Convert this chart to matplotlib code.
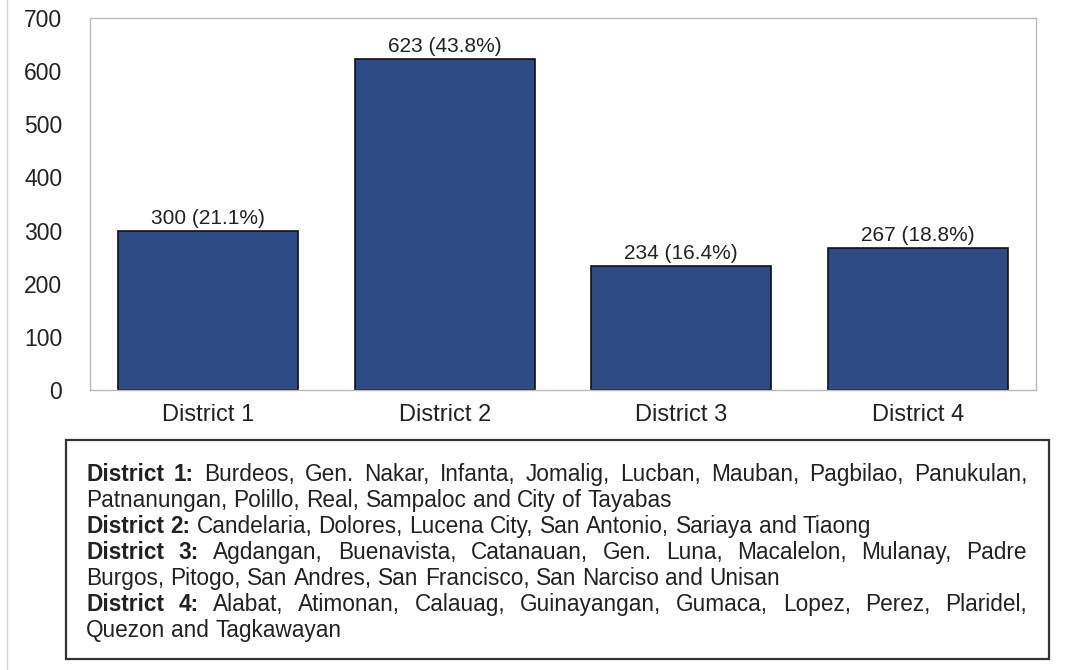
import matplotlib
matplotlib.use("Agg")
import matplotlib.pyplot as plt
from matplotlib.patches import Rectangle
from matplotlib.lines import Line2D

districts = ["District 1", "District 2", "District 3", "District 4"]
respondents = [300, 623, 234, 267]
shares = [21.1, 43.8, 16.4, 18.8]

# description box, one entry per printed line: (bold lead, rest, justified?)
note_lines = [
    ("District 1:", "Burdeos, Gen. Nakar, Infanta, Jomalig, Lucban, Mauban, Pagbilao, Panukulan,", True),
    ("", "Patnanungan, Polillo, Real, Sampaloc and City of Tayabas", False),
    ("District 2:", "Candelaria, Dolores, Lucena City, San Antonio, Sariaya and Tiaong", False),
    ("District 3:", "Agdangan, Buenavista, Catanauan, Gen. Luna, Macalelon, Mulanay, Padre", True),
    ("", "Burgos, Pitogo, San Andres, San Francisco, San Narciso and Unisan", False),
    ("District 4:", "Alabat, Atimonan, Calauag, Guinayangan, Gumaca, Lopez, Perez, Plaridel,", True),
    ("", "Quezon and Tagkawayan", False),
]

W, H = 1075, 670
plt.rcParams['font.family'] = ['Liberation Sans', 'DejaVu Sans']
ink = '#222222'
FS = 16.3

fig = plt.figure(figsize=(W / 100, H / 100), dpi=100)
fig.patch.set_facecolor('white')

# bar chart
ax = fig.add_axes([90 / W, 1 - 390 / H, (1036 - 90) / W, (390 - 18) / H])
x = list(range(len(districts)))
bars = ax.bar(x, respondents, width=0.76, color='#2f4b85',
              edgecolor='#111111', linewidth=1.2)
for b, n, p in zip(bars, respondents, shares):
    ax.annotate(f'{n} ({p}%)', (b.get_x() + b.get_width() / 2, b.get_height()),
                xytext=(0, 2), textcoords='offset points',
                ha='center', va='bottom', fontsize=15, color=ink)
ax.set_xlim(-0.5, 3.5)
ax.set_ylim(0, 700)
ax.set_yticks(range(0, 701, 100))
ax.set_xticks(x)
ax.set_xticklabels(districts)
ax.tick_params(axis='y', length=0, pad=20, labelsize=16.5, labelcolor=ink)
ax.tick_params(axis='x', length=0, pad=10, labelsize=17, labelcolor=ink)
for s in ax.spines.values():
    s.set_color('#b8b8c0')
    s.set_linewidth(1)

# faint page margin line from the scan
fig.add_artist(Line2D([7 / W, 7 / W], [0, 1], transform=fig.transFigure,
                      color='#d6d6d6', lw=1))

# description box
fig.add_artist(Rectangle((66 / W, 1 - 659 / H), (1049 - 66) / W, (659 - 440) / H,
                         transform=fig.transFigure, fill=False,
                         edgecolor='#333333', linewidth=1.6))

renderer = fig.canvas.get_renderer()


def width_px(s, weight):
    t = fig.text(0, 0, s, fontsize=FS, fontweight=weight)
    w = t.get_window_extent(renderer).width
    t.remove()
    return w


space = width_px('a a', 'normal') - width_px('aa', 'normal')
left, right = 86, 1027
y0, step = 481, 26

for i, (lead, rest, justify) in enumerate(note_lines):
    tokens = [(w, 'bold') for w in lead.split()] + [(w, 'normal') for w in rest.split()]
    widths = [width_px(w, wt) for w, wt in tokens]
    if justify and len(tokens) > 1:
        gap = (right - left - sum(widths)) / (len(tokens) - 1)
    else:
        gap = space
    xp = left
    yp = y0 + step * i
    for (w, wt), wd in zip(tokens, widths):
        fig.text(xp / W, 1 - yp / H, w, fontsize=FS, fontweight=wt,
                 color=ink, ha='left', va='baseline')
        xp += wd + gap

fig.savefig('out.png', dpi=100)
